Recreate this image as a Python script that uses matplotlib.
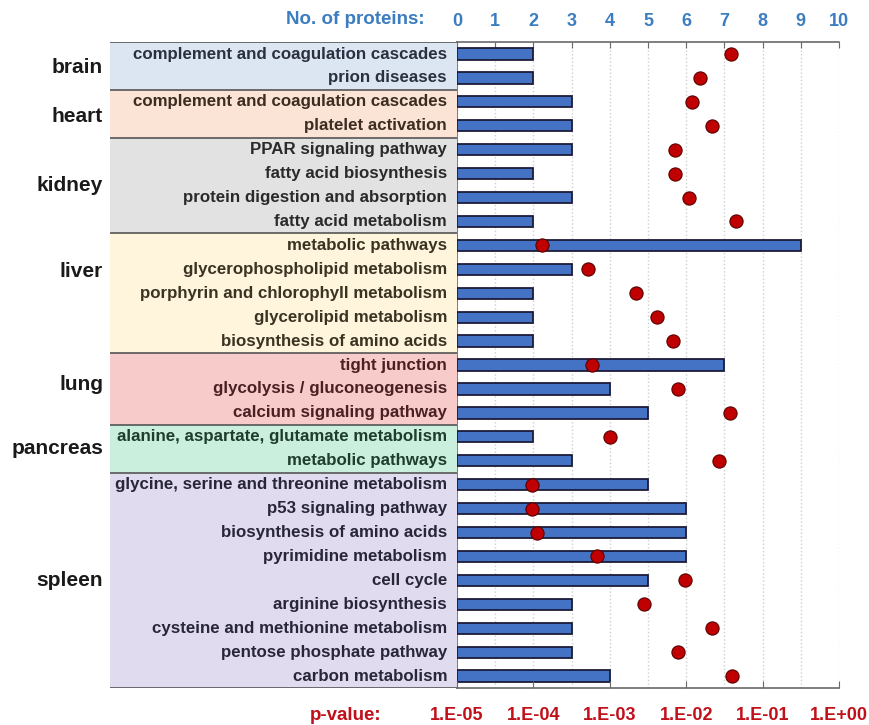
import matplotlib.pyplot as plt
import matplotlib.transforms as mtransforms

plt.rcParams['font.family'] = ['Liberation Sans', 'DejaVu Sans']

# tissues and how many pathways each one has
tissues = ['brain', 'heart', 'kidney', 'liver', 'lung', 'pancreas', 'spleen']
tissue_sizes = [2, 2, 4, 5, 3, 2, 9]

pathways = [
    'complement and coagulation cascades', 'prion diseases',
    'complement and coagulation cascades', 'platelet activation',
    'PPAR signaling pathway', 'fatty acid biosynthesis',
    'protein digestion and absorption', 'fatty acid metabolism',
    'metabolic pathways', 'glycerophospholipid metabolism',
    'porphyrin and chlorophyll metabolism', 'glycerolipid metabolism',
    'biosynthesis of amino acids',
    'tight junction', 'glycolysis / gluconeogenesis', 'calcium signaling pathway',
    'alanine, aspartate, glutamate metabolism', 'metabolic pathways',
    'glycine, serine and threonine metabolism', 'p53 signaling pathway',
    'biosynthesis of amino acids', 'pyrimidine metabolism', 'cell cycle',
    'arginine biosynthesis', 'cysteine and methionine metabolism',
    'pentose phosphate pathway', 'carbon metabolism',
]
n_proteins = [2, 2,
              3, 3,
              3, 2, 3, 2,
              9, 3, 2, 2, 2,
              7, 4, 5,
              2, 3,
              5, 6, 6, 6, 5, 3, 3, 3, 4]
p_values = [0.038, 0.015,
            0.012, 0.022,
            0.0072, 0.0072, 0.011, 0.045,
            1.3e-4, 5.1e-4, 2.2e-3, 4.2e-3, 6.7e-3,
            5.9e-4, 7.7e-3, 0.037,
            1.0e-3, 0.027,
            9.7e-5, 9.7e-5, 1.1e-4, 6.8e-4, 9.7e-3, 2.8e-3, 0.022, 7.7e-3, 0.040]

protein_ticks = list(range(0, 11))
p_ticks = [1e-5, 1e-4, 1e-3, 1e-2, 1e-1, 1e0]
p_tick_labels = ['1.E-05', '1.E-04', '1.E-03', '1.E-02', '1.E-01', '1.E+00']

block_colors = ['#dce5f2', '#fbe4d5', '#e2e2e2', '#fef5dc', '#f8cbcb', '#cbefdd', '#e1dbef']
text_colors = ['#2b3040', '#3d2c22', '#2a2a2a', '#3a3322', '#4a2020', '#1f3d2c', '#29263a']
label_rows = [0.55, 2.6, 5.5, 9.1, 13.8, 16.5, 22.0]

blue = '#3b7dc0'
red = '#c0101a'
axis_grey = '#6a6a6a'

fig = plt.figure(figsize=(8.69, 7.25), dpi=100)
ax = fig.add_axes([0.526, 0.051, 0.4395, 0.891])
ax_left = fig.add_axes([0.1266, 0.051, 0.3994, 0.891], sharey=ax)
ax2 = ax.twiny()

rows = list(range(len(pathways)))

# bars: number of proteins (top axis)
ax.barh(rows, n_proteins, height=0.47, color='#4472c4', edgecolor='#1c1c3a',
        linewidth=1.3, zorder=3)
ax.set_xlim(0, 10)
ax.set_ylim(len(pathways) - 0.5, -0.5)
ax.xaxis.set_ticks_position('top')
ax.set_xticks(protein_ticks)
ax.set_xticklabels([str(t) for t in protein_ticks], color=blue,
                   fontsize=13, fontweight='bold')
ax.tick_params(axis='x', which='both', top=True, bottom=False, labeltop=True,
               labelbottom=False, direction='in', length=4, color=axis_grey, pad=9)
ax.tick_params(axis='y', left=False, labelleft=False)
ax.grid(axis='x', color='#cfcfcf', linestyle=':', linewidth=1.0, zorder=0)
for side in ['right', 'bottom']:
    ax.spines[side].set_visible(False)
for side in ['top', 'left']:
    ax.spines[side].set_color(axis_grey)
    ax.spines[side].set_linewidth(1.2)

# dots: p-value on log scale (bottom axis)
ax2.set_xscale('log')
ax2.set_xlim(1e-5, 1)
ax2.plot(p_values, rows, 'o', color='#c00000', markeredgecolor='#5a0000',
         markeredgewidth=0.8, markersize=9.5, zorder=5)
ax2.set_xticks(p_ticks)
ax2.set_xticklabels(p_tick_labels, color=red, fontsize=13, fontweight='bold')
ax2.minorticks_off()
ax2.tick_params(axis='x', which='both', top=False, bottom=True, labeltop=False,
                labelbottom=True, direction='in', length=5, color=axis_grey, pad=14)
for side in ['right', 'top', 'left']:
    ax2.spines[side].set_visible(False)
ax2.spines['bottom'].set_visible(True)
ax2.spines['bottom'].set_color(axis_grey)
ax2.spines['bottom'].set_linewidth(1.2)

# left panel: tissue blocks with pathway names
ax_left.set_xlim(0, 1)
ax_left.axis('off')
trans = mtransforms.blended_transform_factory(ax_left.transAxes, ax_left.transData)
start = 0
for i, size in enumerate(tissue_sizes):
    lo = start - 0.5
    hi = start + size - 0.5
    ax_left.axhspan(lo, hi, color=block_colors[i], zorder=0)
    ax_left.axhline(lo, color='#555555', linewidth=1.2, zorder=2)
    for r in range(start, start + size):
        ax_left.text(0.971, r, pathways[r], ha='right', va='center',
                     fontsize=12.2, fontweight='bold', color=text_colors[i])
    ax_left.text(-0.02, label_rows[i], tissues[i], ha='right', va='center',
                 fontsize=15, fontweight='bold', color='#1a1a1a', transform=trans)
    start += size
ax_left.axhline(start - 0.5, color='#555555', linewidth=1.2, zorder=2)

fig.text(425 / 869, 1 - 20 / 725, 'No. of proteins:', ha='right', va='center',
         color=blue, fontsize=13.5, fontweight='bold')
fig.text(381 / 869, 1 - 715 / 725, 'p-value:', ha='right', va='center',
         color=red, fontsize=13.5, fontweight='bold')

fig.savefig('out.png', dpi=100)
